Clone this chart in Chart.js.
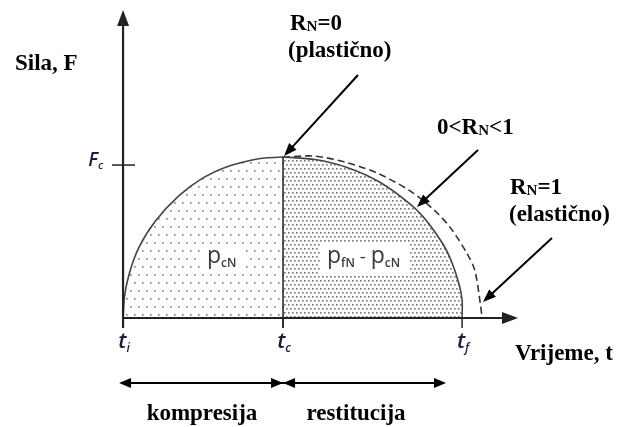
<!DOCTYPE html>
<html>
<head>
<meta charset="utf-8">
<script src="https://cdn.jsdelivr.net/npm/chart.js@4.4.1/dist/chart.umd.min.js"></script>
<style>
  html, body { margin: 0; padding: 0; background: #fff; }
  canvas { display: block; }
</style>
</head>
<body>
<canvas id="impact" width="621" height="427"></canvas>
<script>
// force vs. time during impact (time in units of t_c, force in units of F_c peak)
const compressionT = [0, 0.01, 0.04, 0.1, 0.2, 0.35, 0.5, 0.65, 0.8, 0.9, 1];
const compressionF = [0, 0.14, 0.28, 0.44, 0.6, 0.76, 0.87, 0.94, 0.98, 0.995, 1];

const restitutionT = [1, 1.2, 1.4, 1.6, 1.8, 1.9, 2.0, 2.05, 2.1, 2.119, 2.119];
const restitutionF = [1, 0.984, 0.935, 0.846, 0.703, 0.6, 0.458, 0.359, 0.21, 0.11, 0];

const elasticT = [1, 1.2, 1.4, 1.6, 1.8, 1.95, 2.05, 2.15, 2.2, 2.245];
const elasticF = [1, 1.005, 0.965, 0.895, 0.785, 0.665, 0.555, 0.4, 0.29, 0];

const timeTicks = [0, 1, 2.119];
const timeTickLabels = [['t', 'i'], ['t', 'c'], ['t', 'f']];
const forceTick = 0.95;
const forceTickLabel = ['F', 'c'];

const serif = '"Liberation Serif", "Times New Roman", serif';
const sans = '"Open Sans", "Noto Sans", sans-serif';

const ctx = document.getElementById('impact');
const ctx2d = ctx.getContext('2d');
const sparse = (() => {
  const c = document.createElement('canvas'); c.width = 16; c.height = 16;
  const g = c.getContext('2d'); g.fillStyle = '#888';
  [[2, 2], [10, 2], [6, 10], [14, 10]].forEach(([x, y]) => g.fillRect(x, y, 1.7, 1.7));
  return ctx2d.createPattern(c, 'repeat');
})();
const dense = (() => {
  const c = document.createElement('canvas'); c.width = 8; c.height = 8;
  const g = c.getContext('2d'); g.fillStyle = '#808080';
  [[0, 0], [4, 0], [2, 4], [6, 4]].forEach(([x, y]) => g.fillRect(x, y, 1.7, 1.7));
  return ctx2d.createPattern(c, 'repeat');
})();

const pts = (xs, ys) => xs.map((x, i) => ({ x, y: ys[i] }));

function rich(g, parts, x, y, align) {
  let w = 0;
  parts.forEach(p => { g.font = p.font; w += g.measureText(p.t).width; });
  let cx = align === 'center' ? x - w / 2 : align === 'right' ? x - w : x;
  g.textAlign = 'left';
  g.textBaseline = 'alphabetic';
  parts.forEach(p => {
    g.font = p.font;
    g.fillStyle = p.color || '#000';
    g.fillText(p.t, cx, y + (p.dy || 0));
    cx += g.measureText(p.t).width;
  });
}

function line(g, x1, y1, x2, y2, w) {
  g.beginPath(); g.lineWidth = w; g.moveTo(x1, y1); g.lineTo(x2, y2); g.stroke();
}

function arrowHead(g, x1, y1, x2, y2, len, half) {
  const a = Math.atan2(y2 - y1, x2 - x1);
  g.beginPath();
  g.moveTo(x2, y2);
  g.lineTo(x2 - len * Math.cos(a) + half * Math.sin(a), y2 - len * Math.sin(a) - half * Math.cos(a));
  g.lineTo(x2 - len * Math.cos(a) - half * Math.sin(a), y2 - len * Math.sin(a) + half * Math.cos(a));
  g.closePath();
  g.fill();
}

function arrow(g, x1, y1, x2, y2) {
  const a = Math.atan2(y2 - y1, x2 - x1);
  line(g, x1, y1, x2 - 8 * Math.cos(a), y2 - 8 * Math.sin(a), 2);
  arrowHead(g, x1, y1, x2, y2, 13, 5);
}

const diagram = {
  id: 'diagram',
  afterDatasetsDraw(chart) {
    const g = chart.ctx;
    const xs = chart.scales.x, ys = chart.scales.y;
    const X = v => xs.getPixelForValue(v);
    const Y = v => ys.getPixelForValue(v);
    const y0 = Y(0);
    g.save();

    // area labels
    const lab = '#3a3a3a';
    g.fillStyle = '#fff';
    g.fillRect(201, 246, 44, 26);
    g.fillRect(320, 244, 90, 31);
    rich(g, [{ t: 'p', font: '400 23px ' + sans, color: lab }, { t: 'cN', font: '600 12px ' + sans, color: lab, dy: 4 }],
      207, 263, 'left');
    rich(g, [{ t: 'p', font: '400 23px ' + sans, color: lab }, { t: 'fN', font: '600 12px ' + sans, color: lab, dy: 4 },
      { t: ' - ', font: '400 19px ' + sans, color: lab },
      { t: 'p', font: '400 23px ' + sans, color: lab }, { t: 'cN', font: '600 12px ' + sans, color: lab, dy: 4 }],
      327, 263, 'left');

    g.strokeStyle = '#222';
    g.fillStyle = '#222';
    // divider at t_c
    line(g, X(1), Y(1), X(1), y0 + 10, 1.5);
    // ticks below axis
    timeTicks.forEach(t => line(g, X(t), y0, X(t), y0 + 10, 1.5));

    // axes
    line(g, X(0), y0 + 10, X(0), 24, 2.2);
    arrowHead(g, X(0), 100, X(0), 10, 16, 6);
    line(g, X(0), y0, 506, y0, 2.2);
    arrowHead(g, 400, y0, 518, y0, 16, 6);
    // F_c tick
    line(g, X(0) - 11, Y(forceTick), X(0) + 12, Y(forceTick), 1.5);

    // tick labels
    const tc = '#1c1c3c';
    timeTicks.forEach((t, i) => {
      rich(g, [{ t: timeTickLabels[i][0], font: 'italic 600 22px ' + sans, color: tc },
        { t: timeTickLabels[i][1], font: 'italic 600 12px ' + sans, color: tc, dy: 4 }], X(t) + 1, y0 + 30, 'center');
    });
    rich(g, [{ t: forceTickLabel[0], font: 'italic 600 19px ' + sans, color: tc },
      { t: forceTickLabel[1], font: 'italic 600 11px ' + sans, color: tc, dy: 3 }], X(0) - 20, Y(forceTick) + 1, 'right');

    // axis titles
    const big = 'bold 23px ' + serif;
    rich(g, [{ t: 'Sila, F', font: big }], 15, 70, 'left');
    rich(g, [{ t: 'Vrijeme, t', font: big }], 515, 360, 'left');

    // phase arrows
    g.strokeStyle = '#000'; g.fillStyle = '#000';
    const ya = 383;
    line(g, X(0) - 2, ya, X(1), ya, 2.2);
    arrowHead(g, X(1), ya, X(0) - 4, ya, 12, 5);
    arrowHead(g, X(0), ya, X(1), ya, 12, 5);
    line(g, X(1), ya, 443, ya, 2.2);
    arrowHead(g, 443, ya, X(1), ya, 12, 5);
    arrowHead(g, X(1), ya, 446, ya, 12, 5);
    rich(g, [{ t: 'kompresija', font: big }], 202, 420, 'center');
    rich(g, [{ t: 'restitucija', font: big }], 356, 420, 'center');

    // restitution annotations
    const rn = (pre, post) => [
      { t: pre + 'R', font: big },
      { t: 'N', font: 'bold 15px ' + serif, dy: 1 },
      { t: post, font: big }];
    rich(g, rn('', '=0'), 290, 30, 'left');
    rich(g, [{ t: '(plastično)', font: big }], 288, 57, 'left');
    arrow(g, 358, 75, X(1) + 1, Y(1) - 1);

    rich(g, rn('0<', '<1'), 437, 134, 'left');
    arrow(g, 478, 150, 417, 207);

    rich(g, rn('', '=1'), 510, 194, 'left');
    rich(g, [{ t: '(elastično)', font: big }], 509, 221, 'left');
    arrow(g, 552, 238, 483, 302);

    g.restore();
  }
};

new Chart(ctx, {
  type: 'scatter',
  data: {
    datasets: [
      {
        data: pts(compressionT, compressionF),
        showLine: true,
        fill: 'origin',
        backgroundColor: sparse,
        borderColor: '#444',
        borderWidth: 1.6,
        pointRadius: 0,
        tension: 0.3
      },
      {
        data: pts(restitutionT, restitutionF),
        showLine: true,
        fill: 'origin',
        backgroundColor: dense,
        borderColor: '#444',
        borderWidth: 1.6,
        pointRadius: 0,
        tension: 0.3
      },
      {
        data: pts(elasticT, elasticF),
        showLine: true,
        fill: false,
        borderColor: '#333',
        borderWidth: 1.6,
        borderDash: [7, 4],
        pointRadius: 0,
        tension: 0.3
      }
    ]
  },
  options: {
    responsive: false,
    animation: false,
    layout: { padding: 0 },
    scales: {
      x: { type: 'linear', display: false, min: -0.769, max: 3.112 },
      y: { type: 'linear', display: false, min: -0.677, max: 1.975 }
    },
    plugins: {
      legend: { display: false },
      tooltip: { enabled: false }
    }
  },
  plugins: [diagram]
});
</script>
</body>
</html>
